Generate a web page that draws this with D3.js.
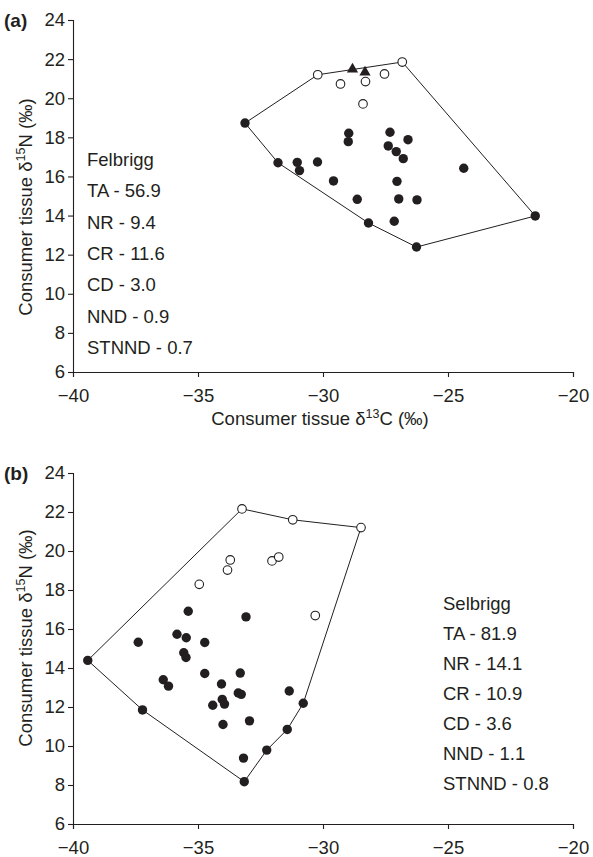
<!DOCTYPE html>
<html><head><meta charset="utf-8">
<script src="https://cdn.jsdelivr.net/npm/d3@7"></script>
<style>body{margin:0;background:#fff}svg{display:block}</style>
</head><body><svg id="c" width="593" height="857"></svg>
<script>
// ---------- DATA ----------
const xTicks = [-40, -35, -30, -25, -20];
const yTicks = [6, 8, 10, 12, 14, 16, 18, 20, 22, 24];

// Panel (a) Felbrigg
const aOpenX = [-30.21, -26.83, -29.30, -28.30, -27.54, -28.40];
const aOpenY = [21.20, 21.85, 20.73, 20.85, 21.24, 19.71];
const aTriX = [-28.82, -28.32];
const aTriY = [21.48, 21.33];
const aFillX = [-33.12, -31.80, -31.03, -30.94, -30.22, -29.58, -28.97, -28.99, -28.63, -28.18, -27.32,
                -26.60, -27.39, -27.07, -26.79, -27.04, -26.97, -26.24, -27.15, -26.26, -24.37, -21.51];
const aFillY = [18.73, 16.70, 16.72, 16.30, 16.74, 15.77, 18.21, 17.78, 14.83, 13.62, 18.26,
                17.88, 17.56, 17.27, 16.91, 15.75, 14.85, 14.80, 13.71, 12.39, 16.42, 13.98];
const aHull = [["o", 0], ["o", 1], ["f", 21], ["f", 19], ["f", 9], ["f", 1], ["f", 0]];
const aStats = ["Felbrigg", "TA - 56.9", "NR - 9.4", "CR - 11.6", "CD - 3.0", "NND - 0.9", "STNND - 0.7"];

// Panel (b) Selbrigg
const bOpenX = [-33.24, -31.21, -28.48, -34.95, -33.82, -33.71, -32.04, -31.77, -30.31];
const bOpenY = [22.16, 21.60, 21.20, 18.29, 19.02, 19.54, 19.49, 19.69, 16.69];
const bFillX = [-39.41, -37.39, -35.39, -33.08, -35.84, -35.47, -34.73, -35.57, -35.48, -34.73, -33.31,
                -36.39, -36.18, -34.06, -33.39, -33.27, -34.03, -33.94, -34.41, -31.35, -30.79, -37.22,
                -32.94, -34.00, -31.43, -32.25, -33.18, -33.15];
const bFillY = [14.39, 15.32, 16.91, 16.62, 15.73, 15.55, 15.31, 14.78, 14.54, 13.72, 13.74,
                13.40, 13.07, 13.18, 12.72, 12.65, 12.39, 12.15, 12.09, 12.82, 12.19, 11.85,
                11.29, 11.10, 10.85, 9.79, 9.38, 8.17];
const bHull = [["f", 0], ["o", 0], ["o", 1], ["o", 2], ["f", 20], ["f", 24], ["f", 25], ["f", 27], ["f", 21]];
const bStats = ["Selbrigg", "TA - 81.9", "NR - 14.1", "CR - 10.9", "CD - 3.6", "NND - 1.1", "STNND - 0.8"];

// ---------- DRAW ----------
const svg = d3.select("#c");
const FONT = "'Liberation Sans', Arial, sans-serif";
const INK = "#231f20";
const FS = 18.5;

function panel(cfg) {
  const x = d3.scaleLinear().domain([-40, -20]).range([73, 573]);
  const y = d3.scaleLinear().domain([6, 24]).range([cfg.bottom, cfg.top]);
  const g = svg.append("g");

  const xa = g.append("g").attr("transform", `translate(0,${cfg.bottom})`)
    .call(d3.axisBottom(x).tickValues(xTicks).tickSizeOuter(0).tickSize(5).tickPadding(6).tickFormat(d3.format("d")));
  const ya = g.append("g").attr("transform", `translate(73,0)`)
    .call(d3.axisLeft(y).tickValues(yTicks).tickSizeOuter(0).tickSize(5).tickPadding(3).tickFormat(d3.format("d")));
  [xa, ya].forEach(a => {
    a.select(".domain").attr("stroke", INK).attr("stroke-width", 1.1);
    a.selectAll(".tick line").attr("stroke", INK).attr("stroke-width", 1.1);
    a.selectAll(".tick text").attr("fill", INK).style("font-family", FONT).style("font-size", FS + "px");
  });
  xa.selectAll(".tick text").attr("dy", "1em");

  const pt = (ref) => ref[0] === "o" ? [x(cfg.openX[ref[1]]), y(cfg.openY[ref[1]])]
                                     : [x(cfg.fillX[ref[1]]), y(cfg.fillY[ref[1]])];
  g.append("path").attr("d", d3.line()(cfg.hull.map(pt)) + "Z")
    .attr("fill", "none").attr("stroke", INK).attr("stroke-width", 1);

  g.selectAll(".f").data(cfg.fillX).join("circle")
    .attr("cx", (d) => x(d)).attr("cy", (d, i) => y(cfg.fillY[i])).attr("r", 4.7).attr("fill", INK);
  g.selectAll(".o").data(cfg.openX).join("circle")
    .attr("cx", (d) => x(d)).attr("cy", (d, i) => y(cfg.openY[i])).attr("r", 4.3)
    .attr("fill", "#fff").attr("stroke", INK).attr("stroke-width", 1.1);
  if (cfg.triX) {
    g.selectAll(".t").data(cfg.triX).join("path")
      .attr("d", d3.symbol(d3.symbolTriangle, 55))
      .attr("transform", (d, i) => `translate(${x(d)},${y(cfg.triY[i])})`).attr("fill", INK);
  }

  // stats text
  g.append("g").selectAll("text").data(cfg.stats).join("text")
    .attr("x", cfg.statX).attr("y", (d, i) => cfg.statY + i * cfg.statDy)
    .style("font-family", FONT).style("font-size", FS + "px").attr("fill", INK).text(d => d);

  // panel letter
  svg.append("text").attr("x", 4).attr("y", cfg.top + 7).style("font-family", FONT)
    .style("font-size", "19px").style("font-weight", "bold").attr("fill", INK).text(cfg.letter);

  // y title
  const yt = svg.append("text").attr("transform", `translate(32,${cfg.yTitleC}) rotate(-90)`)
    .attr("text-anchor", "middle").style("font-family", FONT).style("font-size", FS + "px").attr("fill", INK);
  yt.append("tspan").text("Consumer tissue δ");
  yt.append("tspan").attr("dy", -7).style("font-size", "12.5px").text("15");
  yt.append("tspan").attr("dy", 7).text("N (‰)");

  if (cfg.xTitle) {
    const xt = svg.append("text").attr("x", 320).attr("y", cfg.bottom + 53)
      .attr("text-anchor", "middle").style("font-family", FONT).style("font-size", FS + "px").attr("fill", INK);
    xt.append("tspan").text("Consumer tissue δ");
    xt.append("tspan").attr("dy", -7).style("font-size", "12.5px").text("13");
    xt.append("tspan").attr("dy", 7).text("C (‰)");
  }
}

panel({ top: 20, bottom: 372, openX: aOpenX, openY: aOpenY, fillX: aFillX, fillY: aFillY,
        triX: aTriX, triY: aTriY, hull: aHull, stats: aStats, statX: 87, statY: 166, statDy: 31.3,
        letter: "(a)", xTitle: true, yTitleC: 207 });
panel({ top: 473, bottom: 824, openX: bOpenX, openY: bOpenY, fillX: bFillX, fillY: bFillY,
        hull: bHull, stats: bStats, statX: 443, statY: 610, statDy: 30,
        letter: "(b)", xTitle: false, yTitleC: 638 });
</script></body></html>
